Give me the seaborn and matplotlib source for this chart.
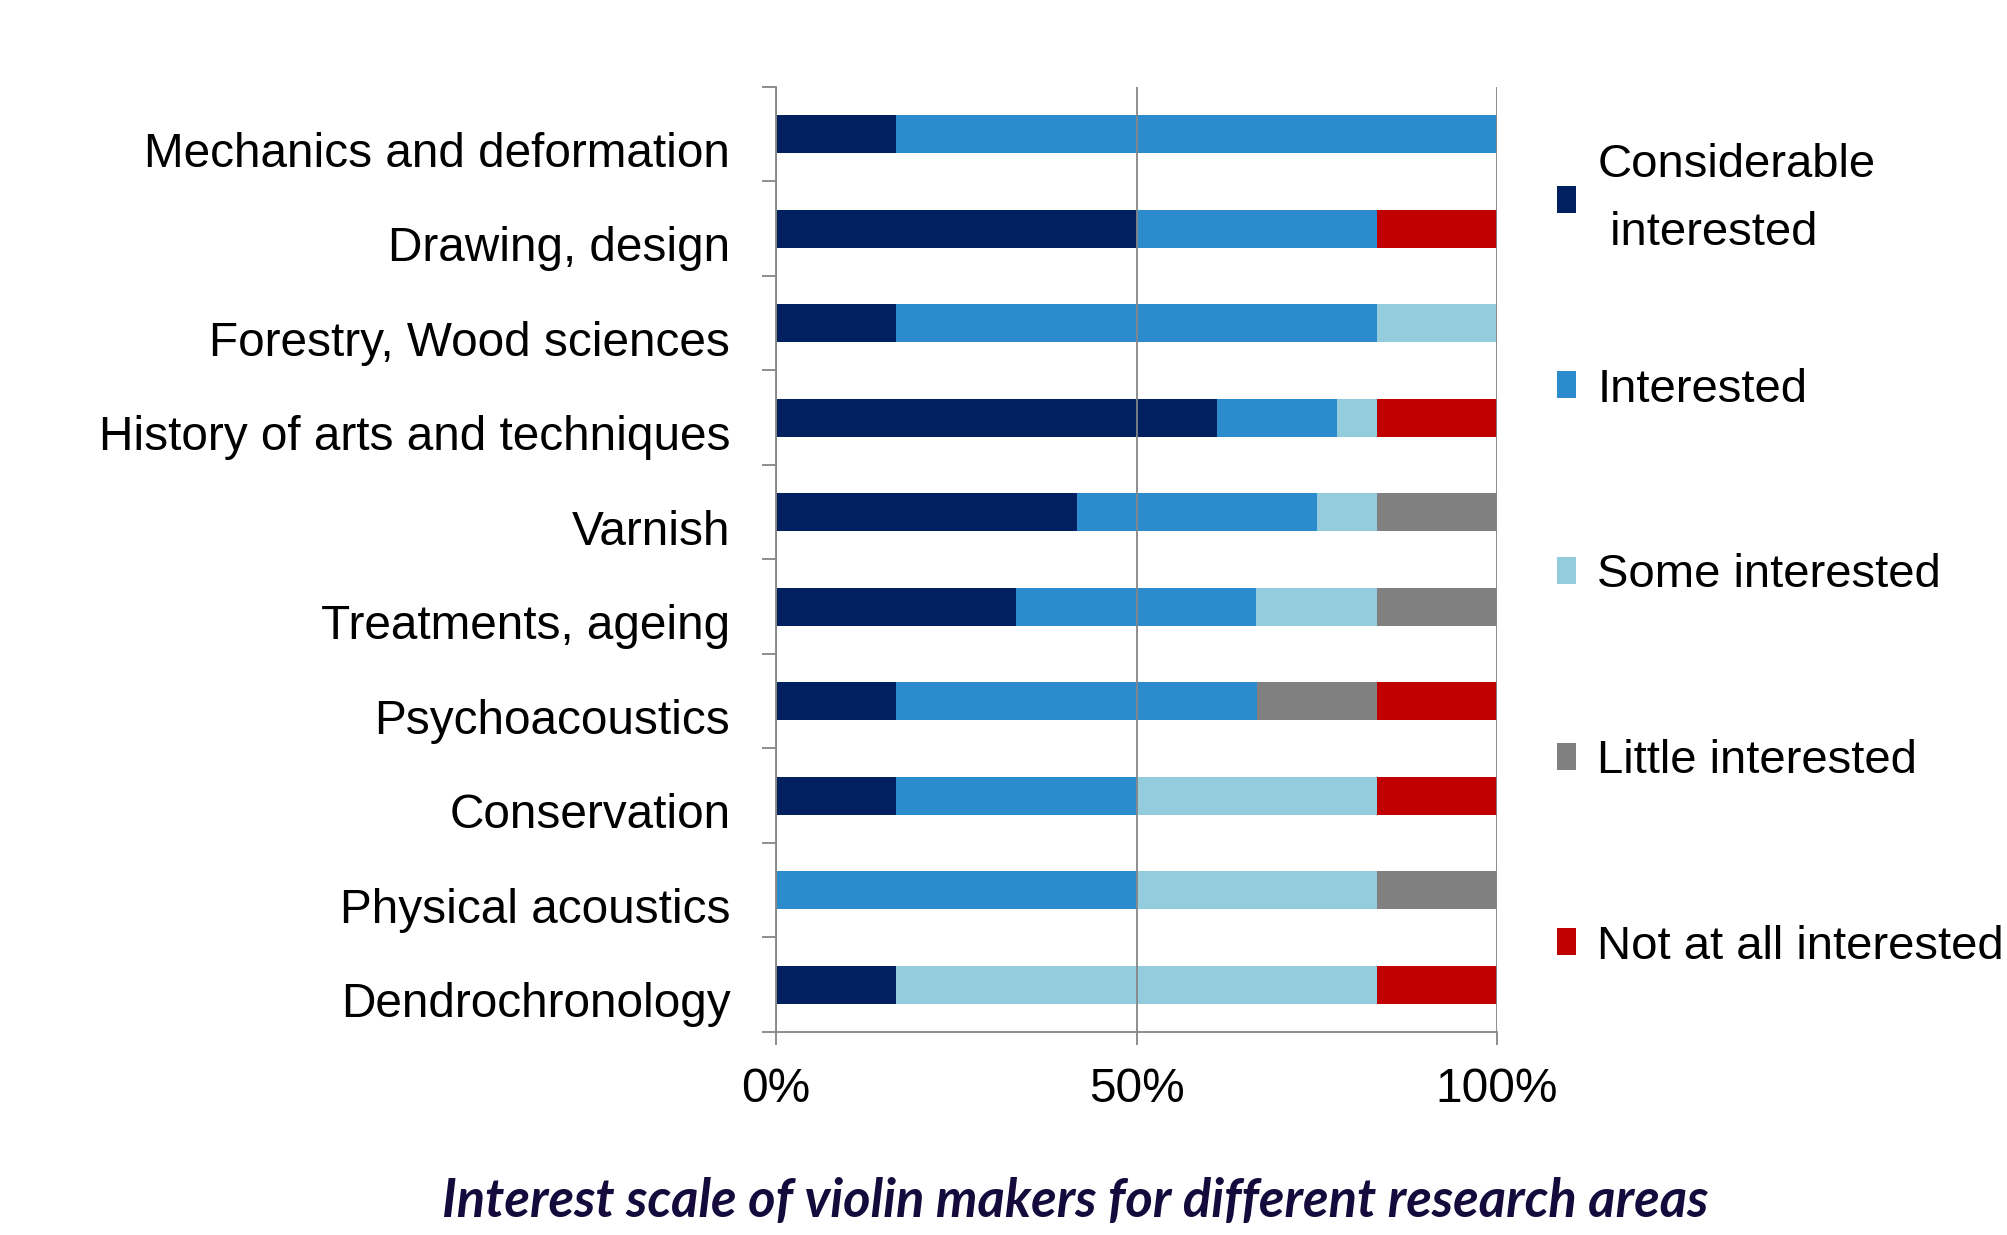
#%% IMPORT PACKAGES AND GLOBAL CONFIGURATIONS
import numpy as np
import pandas as pd
import matplotlib.pyplot as plt
import matplotlib.transforms as mtransforms
from matplotlib.patches import Patch
import seaborn as sns

sns.set_theme(style='white')
plt.rcParams['font.family'] = ['Liberation Sans', 'DejaVu Sans']

#%% DATA (percent of respondents)
areas = ['Mechanics and deformation', 'Drawing, design', 'Forestry, Wood sciences',
         'History of arts and techniques', 'Varnish', 'Treatments, ageing',
         'Psychoacoustics', 'Conservation', 'Physical acoustics', 'Dendrochronology']
levels = ['Considerable\n interested', 'Interested', 'Some interested',
          'Little interested', 'Not at all interested']
considerable = [16.7, 50.0, 16.7, 61.1, 41.7, 33.3, 16.7, 16.7, 0.0, 16.7]
interested = [83.3, 33.3, 66.7, 16.7, 33.3, 33.3, 50.0, 33.3, 50.0, 0.0]
some = [0.0, 0.0, 16.6, 5.6, 8.3, 16.7, 0.0, 33.3, 33.3, 66.6]
little = [0.0, 0.0, 0.0, 0.0, 16.7, 16.7, 16.7, 0.0, 16.7, 0.0]
not_at_all = [0.0, 16.7, 0.0, 16.6, 0.0, 0.0, 16.6, 16.7, 0.0, 16.7]
colors = ['#002060', '#2B8BCD', '#93CDDD', '#808080', '#C00000']
title = 'Interest scale of violin makers for different research areas'

df = pd.DataFrame({'area': areas, 'l0': considerable, 'l1': interested, 'l2': some,
                   'l3': little, 'l4': not_at_all})
cols = ['l0', 'l1', 'l2', 'l3', 'l4']
cum = df[cols].cumsum(axis=1)
cum['area'] = df['area']

#%% PLOT
fig = plt.figure(figsize=(20.08, 12.35), dpi=100)
ax = fig.add_axes([0.3865, 0.1644, 0.7455 - 0.3865, 0.9296 - 0.1644])

# stacked bars: draw cumulative totals from the last level back to the first
for col, color in reversed(list(zip(cols, colors))):
    sns.barplot(data=cum, x=col, y='area', order=areas, color=color, width=0.4,
                linewidth=0, saturation=1, ax=ax)

grey = '#868686'
ax.set_xlim(0, 100)
ax.set_ylim(9.5, -0.5)
ax.set_xlabel('')
ax.set_ylabel('')
ax.set_xticks([0, 50, 100])
ax.set_xticklabels(['0%', '50%', '100%'])
ax.set_yticks(np.arange(len(areas)))
ax.set_yticks(np.arange(len(areas) + 1) - 0.5, minor=True)
ax.tick_params(axis='x', which='major', bottom=True, direction='out', length=9.5,
               width=1.3, color=grey, labelsize=34.4, pad=16, labelcolor='black')
ax.tick_params(axis='y', which='major', left=False, length=0, labelsize=34.4, pad=33,
               labelcolor='black')
ax.tick_params(axis='y', which='minor', left=True, direction='out', length=10,
               width=1.3, color=grey)
ax.xaxis.grid(True, color=grey, linewidth=1.3)
ax.yaxis.grid(False)
ax.set_axisbelow(False)
for side in ['top', 'right']:
    ax.spines[side].set_visible(False)
for side in ['left', 'bottom']:
    ax.spines[side].set_color(grey)
    ax.spines[side].set_linewidth(1.3)

# category labels sit a little below the bar centres
offset = mtransforms.ScaledTranslation(0, -0.15, fig.dpi_scale_trans)
for label in ax.get_yticklabels():
    label.set_transform(label.get_transform() + offset)

# legend: the two-line entry goes in its own box so the others keep even spacing
handles = [Patch(facecolor=c, edgecolor='none') for c in colors]
leg_kw = dict(loc='center left', frameon=False, fontsize=34, handlelength=0.4,
              handleheight=0.5, handletextpad=0.45, labelspacing=3.0, borderpad=0,
              borderaxespad=0, labelcolor='black')
leg1 = fig.legend(handles[:1], levels[:1], bbox_to_anchor=(1557 / 2008, 0.839), **leg_kw)
leg1.get_texts()[0].set_linespacing(1.7)
fig.legend(handles[1:], levels[1:], bbox_to_anchor=(1557 / 2008, 0.459), **leg_kw)

fig.text(0.5357, 0.0146, title, ha='center', va='baseline', fontsize=37.8,
         fontweight='bold', fontstyle='italic', color='#140a3c',
         family=['Lato', 'DejaVu Sans'])

plt.savefig('out.png', dpi=100)
plt.close()
